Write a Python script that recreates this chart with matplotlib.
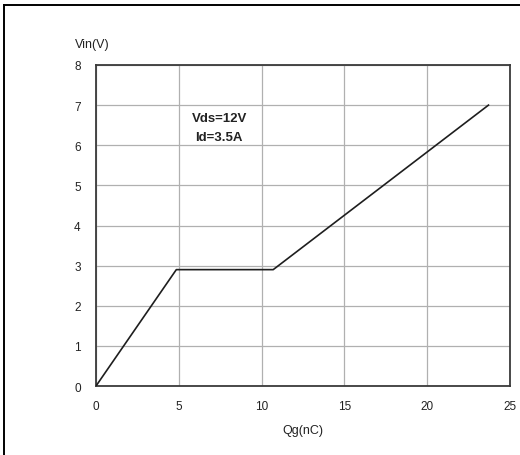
import matplotlib.pyplot as plt
from matplotlib.lines import Line2D

# gate charge curve
qg = [0, 4.85, 10.7, 23.7]
vin = [0, 2.9, 2.9, 7.0]

x_ticks = [0, 5, 10, 15, 20, 25]
y_ticks = [0, 1, 2, 3, 4, 5, 6, 7, 8]

plt.rcParams['font.family'] = ['Liberation Sans', 'DejaVu Sans']

fig = plt.figure(figsize=(5.2, 4.56), dpi=100)
ax = fig.add_axes([96 / 520, 1 - 387 / 456, 414 / 520, 321 / 456])

ax.plot(qg, vin, color='#1e1e1e', linewidth=1.2, zorder=3)

ax.set_xlim(0, 25)
ax.set_ylim(0, 8)
ax.set_xticks(x_ticks)
ax.set_yticks(y_ticks)
ax.grid(True, color='#b0b0b0', linewidth=0.9)
ax.tick_params(length=0, labelsize=8.5, colors='#222222')
ax.tick_params(axis='x', pad=10)
ax.tick_params(axis='y', pad=11)
for s in ax.spines.values():
    s.set_color('#3a3a3a')
    s.set_linewidth(1.3)

ax.set_xlabel('Qg(nC)', fontsize=9, color='#222222', labelpad=9)
fig.text(75 / 520, 1 - 45 / 456, 'Vin(V)', fontsize=9, color='#222222',
         ha='left', va='center')

ax.text(7.45, 6.44, 'Vds=12V\nId=3.5A', fontsize=9.5, fontweight='bold',
        ha='center', va='center', linespacing=1.75, color='#222222')

# outer frame (only left and top edges visible)
fig.add_artist(Line2D([4 / 520, 4 / 520], [0, 1 - 5.5 / 456],
                      transform=fig.transFigure, color='black', linewidth=1.4))
fig.add_artist(Line2D([4 / 520, 1], [1 - 5.5 / 456, 1 - 5.5 / 456],
                      transform=fig.transFigure, color='black', linewidth=1.4))

fig.savefig('out.png', dpi=100)
